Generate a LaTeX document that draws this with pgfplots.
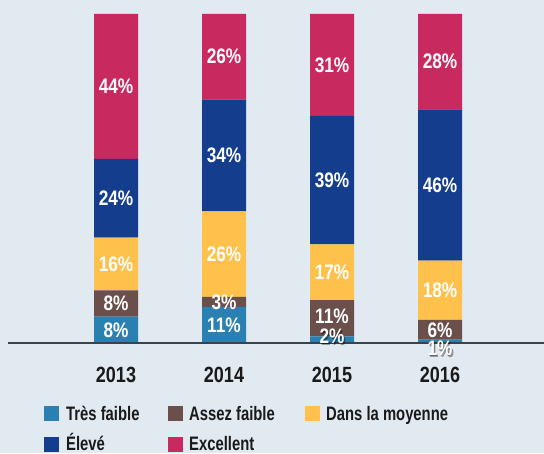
\documentclass[border=0pt]{standalone}
\usepackage{fontspec}
\setmainfont{Liberation Sans}[FakeStretch=0.82]
\newfontfamily\legfont{Liberation Sans}[FakeStretch=0.76]
\usepackage{pgfplots}
\usepackage{pgfplotstable}
\pgfplotsset{compat=1.18}
\definecolor{bgc}{HTML}{E1E9F1}
\definecolor{ctf}{HTML}{2A80B1}
\definecolor{caf}{HTML}{6A4F4A}
\definecolor{cdm}{HTML}{FEC24C}
\definecolor{cel}{HTML}{153D8E}
\definecolor{cex}{HTML}{C8295F}
\definecolor{axc}{HTML}{39434A}
\definecolor{txc}{HTML}{1A1A1A}

\pgfplotstableread{
x tf af dm el ex
0 8 8 16 24 44
1 11 3 26 34 26
2 2 11 17 39 31
3 1 6 18 46 29
}\bars

\pgfplotstableread{
x y label
0 4 8
0 12 8
0 24 16
0 44 24
0 78 44
1 5.5 11
1 12.5 3
1 27 26
1 57 34
1 87 26
2 2.1 2
2 8 11
2 21.5 17
2 49.5 39
2 84.5 31
3 -1.5 1
3 4 6
3 16 18
3 48 46
3 85.5 28
}\labels

\pgfplotstableread{
x y label
2 2.1 2
3 -1.5 1
}\shadows

\begin{document}
\begin{tikzpicture}
\useasboundingbox (0,0) rectangle (544pt,453pt);
\fill[bgc] (0,0) rectangle (544pt,453pt);
\pgfplotsset{
  common/.style={
    at={(8pt,110pt)}, anchor=south west,
    scale only axis, width=536pt, height=329pt,
    xmin=-1, xmax=3.963, ymin=0, ymax=100,
    clip=false,
  }
}
\begin{axis}[common,
  ybar stacked, bar width=44pt,
  axis x line=bottom, axis y line=none,
  axis line style={-, color=axc, line width=1.5pt},
  axis on top,
  xtick={0,1,2,3},
  xticklabels={\textbf{2013},\textbf{2014},\textbf{2015},\textbf{2016}},
  major tick length=0pt,
  xticklabel style={anchor=base, yshift=-40pt, text=txc, font=\bfseries\fontsize{22}{22}\selectfont},
  ytick=\empty,
]
\addplot[fill=ctf, draw=none] table[x=x,y=tf]{\bars};
\addplot[fill=caf, draw=none] table[x=x,y=af]{\bars};
\addplot[fill=cdm, draw=none] table[x=x,y=dm]{\bars};
\addplot[fill=cel, draw=none] table[x=x,y=el]{\bars};
\addplot[fill=cex, draw=none] table[x=x,y=ex]{\bars};
\end{axis}
\begin{axis}[common, hide axis]
\addplot[draw=none, mark=none, point meta=explicit symbolic,
  nodes near coords={\pgfplotspointmeta\%},
  nodes near coords style={anchor=center, text=black, opacity=0.35, xshift=1.5pt, yshift=-2pt, font=\bfseries\fontsize{21}{21}\selectfont}]
  table[x=x,y=y,meta=label]{\shadows};
\addplot[draw=none, mark=none, point meta=explicit symbolic,
  nodes near coords={\pgfplotspointmeta\%},
  nodes near coords style={anchor=center, text=black, opacity=0.3, xshift=0.5pt, yshift=-1pt, font=\bfseries\fontsize{21}{21}\selectfont}]
  table[x=x,y=y,meta=label]{\shadows};
\addplot[draw=none, mark=none, point meta=explicit symbolic,
  nodes near coords={\pgfplotspointmeta\%},
  nodes near coords style={anchor=center, text=white, font=\bfseries\fontsize{21}{21}\selectfont}]
  table[x=x,y=y,meta=label]{\labels};
\end{axis}
% legend
\begin{scope}[every node/.style={anchor=base west, inner sep=0pt, text=txc, font=\legfont\bfseries\fontsize{19.5}{20}\selectfont}]
\fill[ctf] (44pt,32pt) rectangle ++(15pt,15pt);
\node at (66pt,33pt) {Très faible};
\fill[caf] (168pt,32pt) rectangle ++(15pt,15pt);
\node at (189pt,33pt) {Assez faible};
\fill[cdm] (305pt,32pt) rectangle ++(15pt,15pt);
\node at (326pt,33pt) {Dans la moyenne};
\fill[cel] (44pt,1pt) rectangle ++(15pt,15pt);
\node at (66pt,3pt) {Élevé};
\fill[cex] (168pt,1pt) rectangle ++(15pt,15pt);
\node at (189pt,3pt) {Excellent};
\end{scope}
\end{tikzpicture}
\end{document}
